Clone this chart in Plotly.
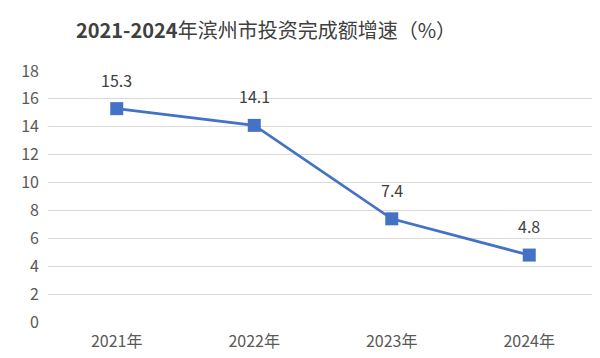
import plotly.graph_objects as go

years = ["2021年", "2022年", "2023年", "2024年"]
growth = [15.3, 14.1, 7.4, 4.8]
y_ticks = [0, 2, 4, 6, 8, 10, 12, 14, 16, 18]

fig = go.Figure()
fig.add_trace(go.Scatter(
    x=years, y=growth, mode="lines+markers",
    line=dict(color="#4472C4", width=2.75),
    marker=dict(symbol="square", size=13, color="#4472C4"),
    hoverinfo="skip",
))
for xv, yv in zip(years, growth):
    fig.add_annotation(x=xv, y=yv, text=f"{yv}", showarrow=False, yshift=29,
                       font=dict(size=16, color="#404040"))

fig.update_layout(
    width=600, height=358,
    margin=dict(l=40, r=10, t=63, b=44, autoexpand=False),
    paper_bgcolor="white", plot_bgcolor="white",
    font=dict(family="Noto Sans CJK SC, Noto Sans, sans-serif"),
    title=dict(text="<b>2021-2024</b>年滨州市投资完成额增速（%）", x=258/600, xanchor="center",
               xref="container",
               y=1 - 23/358, yanchor="middle", font=dict(size=20, color="#404040")),
    showlegend=False,
    xaxis=dict(range=[-0.5, 3.5], showgrid=False, showline=False, ticks="",
               ticklabelstandoff=8,
               tickfont=dict(size=16, color="#595959"), automargin=False),
    yaxis=dict(range=[0, 18], tickvals=y_ticks, showgrid=True, gridcolor="#D9D9D9", gridwidth=1,
               zeroline=False, showline=False, ticks="", ticklabelstandoff=8, automargin=False,
               tickfont=dict(size=16, color="#595959")),
)
fig.write_html("out.html")
